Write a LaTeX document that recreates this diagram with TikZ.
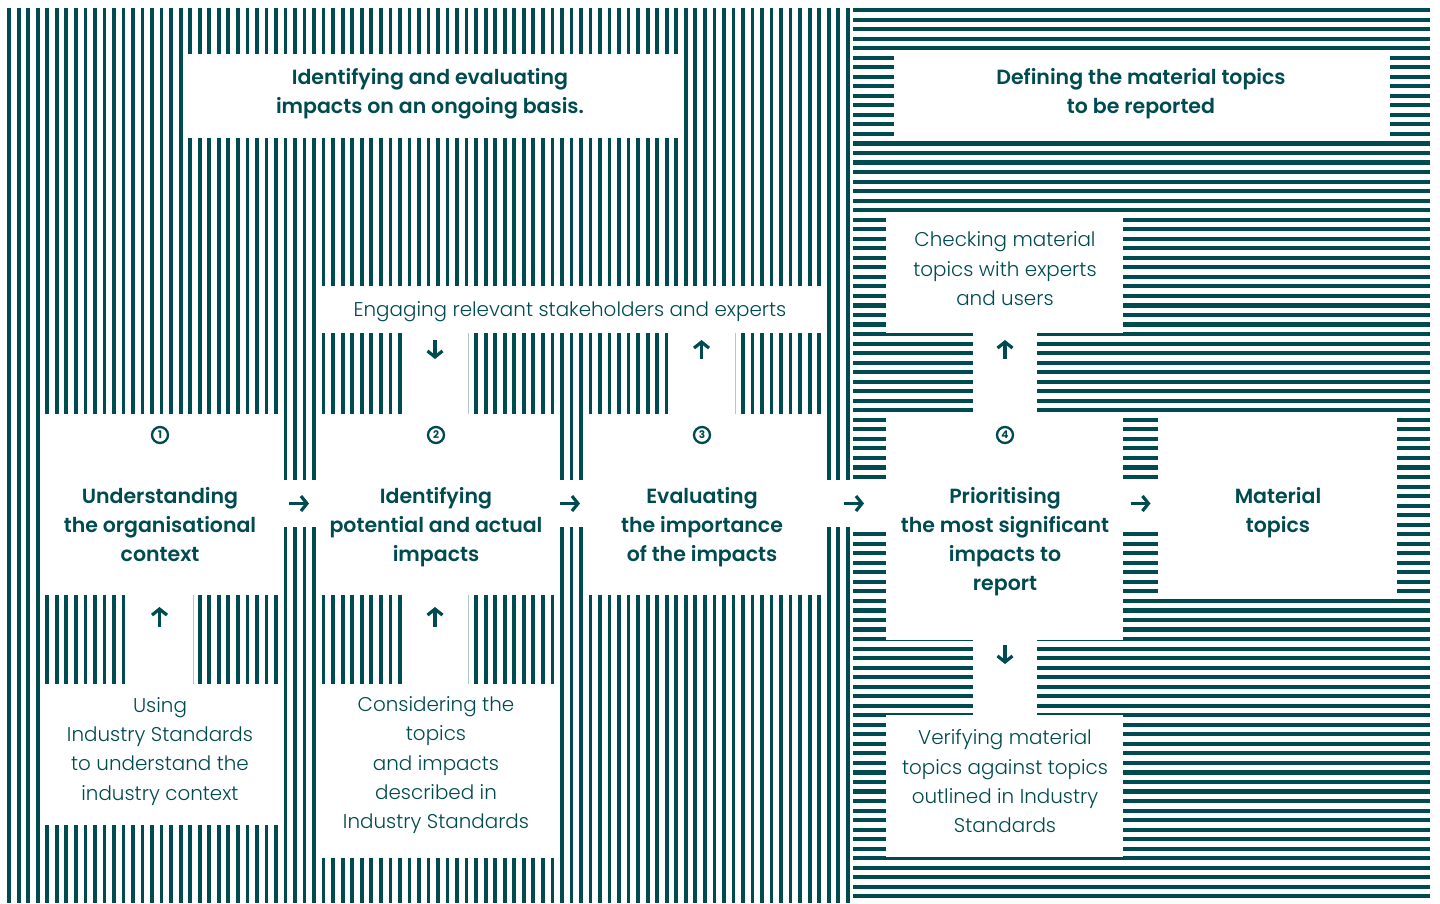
\documentclass[tikz,border=0pt]{standalone}
\usepackage{fontspec}
\usetikzlibrary{arrows.meta}
\IfFontExistsTF{Poppins Light}{\newfontfamily\ltfont{Poppins Light}}{\newfontfamily\ltfont{Poppins}}
\IfFontExistsTF{Poppins SemiBold}{\newfontfamily\hdfont{Poppins SemiBold}}{\newfontfamily\hdfontbase{Poppins}\newcommand\hdfont{\hdfontbase\bfseries}}
\newfontfamily\popfont{Poppins}
\definecolor{dk}{RGB}{0,75,80}
\tikzset{
  wbox/.style={fill=white, draw=none, inner sep=0pt, outer sep=0pt, anchor=north west},
  hd/.style={text=dk, font=\hdfont\fontsize{20.5}{29.2}\selectfont, align=center, inner sep=0pt,
    execute at begin node=\strut, execute at end node=\strut},
  lt/.style={text=dk, font=\ltfont\fontsize{19.9}{29.3}\selectfont, align=center, inner sep=0pt,
    execute at begin node=\strut, execute at end node=\strut},
  num/.style={circle, draw=dk, line width=2.3pt, minimum size=16pt, inner sep=0pt, text=dk, font=\popfont\bfseries\fontsize{10.5}{10.5}\selectfont},
  arr/.style={draw=dk, line width=3.2pt, -{Straight Barb[length=6pt,width=15pt]}},
  edge/.style={draw=dk!30, line width=0.8pt}
}
\begin{document}
\begin{tikzpicture}[x=1pt,y=-1pt]
\useasboundingbox (0,0) rectangle (1440,903);
\fill[white] (0,0) rectangle (1440,903);
% stripe fields
\foreach \k in {0,...,88} \fill[dk] ({7.3+9.53*\k},8) rectangle ++(3.7,895);
\foreach \k in {0,...,93} \fill[dk] (853,{8+9.53*\k}) rectangle ++(577,4.1);
% title boxes
\node[wbox, minimum width=495pt, minimum height=84pt] (t1) at (183,54) {};
\node[wbox, minimum width=496pt, minimum height=87pt] (t2) at (894,53) {};
% engaging box
\node[wbox, minimum width=504pt, minimum height=47pt] (eng) at (318,286) {};
% checking box
\node[wbox, minimum width=237pt, minimum height=116pt] (chk) at (886,217) {};
% step boxes
\node[wbox, minimum width=240pt, minimum height=181pt] (b1) at (40,414) {};
\node[wbox, minimum width=237pt, minimum height=181pt] (b2) at (318,414) {};
\node[wbox, minimum width=237pt, minimum height=181pt] (b3) at (585,414) {};
\node[wbox, minimum width=237pt, minimum height=226pt] (b4) at (886,414) {};
\node[wbox, minimum width=239pt, minimum height=184pt] (b5) at (1158,414) {};
% lower boxes
\node[wbox, minimum width=240pt, minimum height=141pt] (u1) at (40,684) {};
\node[wbox, minimum width=237pt, minimum height=174pt] (u2) at (318,684) {};
\node[wbox, minimum width=237pt, minimum height=142pt] (v4) at (886,715) {};
% horizontal gaps between steps
\node[wbox, minimum width=38pt, minimum height=47pt] (g1) at (280,480) {};
\node[wbox, minimum width=30pt, minimum height=47pt] (g2) at (555,480) {};
\node[wbox, minimum width=64pt, minimum height=47pt] (g3) at (822,480) {};
\node[wbox, minimum width=35pt, minimum height=47pt] (g4) at (1123,480) {};
% vertical columns
\node[wbox, minimum width=67pt, minimum height=89pt] (c1) at (126,595) {};
\node[wbox, minimum width=66pt, minimum height=89pt] (c2) at (402,595) {};
\node[wbox, minimum width=66pt, minimum height=81pt] (c3) at (402,333) {};
\node[wbox, minimum width=67pt, minimum height=81pt] (c4) at (668,333) {};
\node[wbox, minimum width=64pt, minimum height=81pt] (c5) at (973,333) {};
\node[wbox, minimum width=64pt, minimum height=75pt] (c6) at (973,640) {};
\foreach \c in {c1,c2,c3,c4} \draw[edge] (\c.north east) -- (\c.south east);
% texts
\node[hd] (t1txt) at (430,95) {Identifying and evaluating\\impacts on an ongoing basis.};
\node[hd] (t2txt) at (1141,95) {Defining the material topics\\to be reported};
\node[lt] (engtxt) at (570,310.5) {Engaging relevant stakeholders and experts};
\node[lt] (chktxt) at (1005,273) {Checking material\\topics with experts\\and users};
\node[num] (n1) at (160,435) {1};
\node[num] (n2) at (436,435) {2};
\node[num] (n3) at (702,435) {3};
\node[num] (n4) at (1005,435) {4};
\node[hd] (b1txt) at (160,529) {Understanding\\the organisational\\context};
\node[hd] (b2txt) at (436,529) {Identifying\\potential and actual\\impacts};
\node[hd] (b3txt) at (702,529) {Evaluating\\the importance\\of the impacts};
\node[hd] (b4txt) at (1005,543.5) {Prioritising\\the most significant\\impacts to\\report};
\node[hd] (b5txt) at (1278,514.5) {Material\\topics};
\node[lt] (u1txt) at (160,753) {Using\\Industry Standards\\to understand the\\industry context};
\node[lt] (u2txt) at (436,767) {Considering the\\topics\\and impacts\\described in\\Industry Standards};
\node[lt] (v4txt) at (1005,785.5) {Verifying material\\topics against topics\\outlined in Industry\\Standards};
% arrows
\draw[arr] ([xshift=-10pt]g1.center) -- ([xshift=10pt]g1.center);
\draw[arr] ([xshift=-10pt]g2.center) -- ([xshift=10pt]g2.center);
\draw[arr] ([xshift=-10pt]g3.center) -- ([xshift=10pt]g3.center);
\draw[arr] ([xshift=-10pt]g4.center) -- ([xshift=10pt]g4.center);
\draw[arr] ([yshift=-32pt]c1.north) -- ([yshift=-12pt]c1.north);
\draw[arr] ([yshift=-32pt]c2.north) -- ([yshift=-12pt]c2.north);
\draw[arr] ([yshift=-7pt]c3.north) -- ([yshift=-26pt]c3.north);
\draw[arr] ([yshift=-26pt]c4.north) -- ([yshift=-7pt]c4.north);
\draw[arr] ([yshift=-26pt]c5.north) -- ([yshift=-7pt]c5.north);
\draw[arr] ([yshift=-5pt]c6.north) -- ([yshift=-24pt]c6.north);
\end{tikzpicture}
\end{document}
